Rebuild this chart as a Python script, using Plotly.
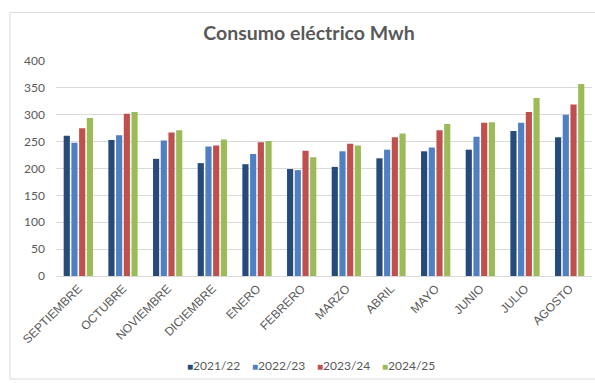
import plotly.graph_objects as go

months = ["SEPTIEMBRE", "OCTUBRE", "NOVIEMBRE", "DICIEMBRE", "ENERO", "FEBRERO",
          "MARZO", "ABRIL", "MAYO", "JUNIO", "JULIO", "AGOSTO"]
s2122 = [261, 253, 218, 210, 208, 199, 203, 219, 232, 235, 270, 258]
s2223 = [248, 262, 252, 241, 227, 197, 232, 235, 239, 259, 285, 300]
s2324 = [275, 302, 267, 243, 249, 233, 246, 258, 271, 285, 305, 319]
s2425 = [294, 305, 271, 254, 251, 221, 243, 265, 283, 286, 331, 357]
series_names = ["2021/22", "2022/23", "2023/24", "2024/25"]
colors = ["#264B7A", "#4F81C2", "#C0504D", "#9BBB59"]
yticks = [0, 50, 100, 150, 200, 250, 300, 350, 400]

fig = go.Figure()
for name, vals, col in zip(series_names, [s2122, s2223, s2324, s2425], colors):
    fig.add_trace(go.Bar(x=months, y=vals, name=name, marker_color=col,
                         marker_line_width=0, showlegend=False))
# compact legend entries: coloured square glyph + label, invisible symbol
for name, col in zip(series_names, colors):
    fig.add_trace(go.Scatter(x=[None], y=[None], mode="markers",
                             marker=dict(color="rgba(0,0,0,0)", size=1),
                             name=f'<span style="color:{col};font-size:10px">■</span>{name}',
                             showlegend=True))
# spacer entry so the last label is not clipped
fig.add_trace(go.Scatter(x=[None], y=[None], mode="markers",
                         marker=dict(color="rgba(0,0,0,0)", size=1),
                         name="&nbsp;", showlegend=True, hoverinfo="skip"))

W, H = 595, 383
L, R, T, B = 56, 3, 61, 105
pw, ph = W - L - R, H - T - B

def px_x(x):
    return (x - L) / pw

def px_y(y):
    return (H - B - y) / ph

fig.update_layout(
    width=W, height=H,
    margin=dict(l=L, r=R, t=T, b=B),
    paper_bgcolor="white", plot_bgcolor="white",
    barmode="group", bargap=0.31, bargroupgap=0.2,
    title=dict(text="<b>Consumo eléctrico Mwh</b>", x=309 / W, xanchor="center",
               y=1 - 33 / H, yanchor="middle",
               font=dict(family="Lato", size=19.5, color="#595959")),
    font=dict(family="Lato", color="#595959"),
    xaxis=dict(tickangle=-45, tickfont=dict(family="Liberation Sans", size=12, color="#595959"),
               showgrid=False, showline=True, linecolor="#d9d9d9", ticks=""),
    yaxis=dict(range=[0, 400], tickvals=yticks, showgrid=True, gridcolor="#d9d9d9",
               gridwidth=1, zeroline=False, showline=False,
               tickfont=dict(family="Lato", size=12, color="#595959"), ticklen=0,
               ticks="", ticklabelstandoff=10),
    legend=dict(orientation="h", x=px_x(147), xanchor="left", y=px_y(368), yanchor="middle",
                font=dict(family="Lato", size=12, color="#595959"), itemwidth=30,
                entrywidth=20, entrywidthmode="pixels", traceorder="normal",
                bgcolor="rgba(0,0,0,0)"),
    shapes=[dict(type="rect", xref="paper", yref="paper",
                 x0=px_x(10), x1=px_x(605), y0=px_y(382), y1=px_y(12),
                 line=dict(color="#d9d9d9", width=1), layer="below")],
)

fig.write_html("out.html")
